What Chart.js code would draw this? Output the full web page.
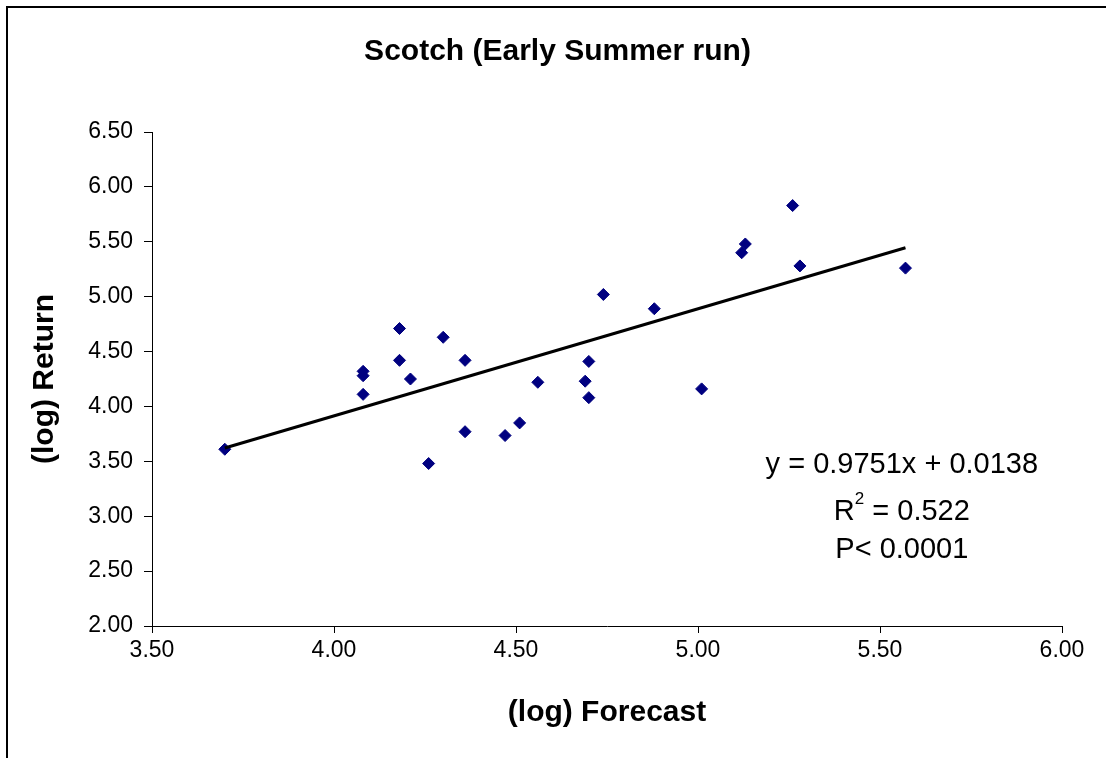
<!DOCTYPE html>
<html>
<head>
<meta charset="utf-8">
<script src="https://cdn.jsdelivr.net/npm/chart.js@4.4.1/dist/chart.umd.min.js"></script>
<style>
html,body{margin:0;padding:0;background:#fff;overflow:hidden}
#wrap{width:1106px;height:758px;position:relative}
canvas{display:block}
</style>
</head>
<body>
<div id="wrap"><canvas id="c" width="1106" height="758"></canvas></div>
<script>
// ---- data ----
const forecast = [3.70, 4.08, 4.08, 4.08, 4.18, 4.18, 4.21, 4.30, 4.36, 4.36, 4.26, 4.47, 4.51, 4.56, 4.69, 4.70, 4.70, 4.74, 4.88, 5.01, 5.12, 5.13, 5.26, 5.28, 5.57];
const returns  = [3.61, 4.32, 4.28, 4.11, 4.71, 4.42, 4.25, 4.63, 4.42, 3.77, 3.48, 3.735, 3.85, 4.22, 4.23, 4.41, 4.08, 5.02, 4.89, 4.16, 5.40, 5.48, 5.83, 5.28, 5.26];
const xTickValues = [3.5, 4.0, 4.5, 5.0, 5.5, 6.0];
const yTickValues = [2.0, 2.5, 3.0, 3.5, 4.0, 4.5, 5.0, 5.5, 6.0, 6.5];
const trendSlope = 0.9751;
const trendIntercept = 0.0138;
const eqLine1 = 'y = 0.9751x + 0.0138';
const eqR2Value = '0.522';
const eqPLine = 'P< 0.0001';
const chartTitle = 'Scotch (Early Summer run)';
const xTitle = '(log) Forecast';
const yTitle = '(log) Return';
const eqAnchor = [5.56, 3.47];

const FONT = '"Liberation Sans", Arial, Helvetica, sans-serif';

const points = forecast.map((x, i) => ({x: x, y: returns[i]}));
const xMin = Math.min(...forecast), xMax = Math.max(...forecast);
const trend = [xMin, xMax].map(x => ({x: x, y: trendSlope * x + trendIntercept}));

const frame = {
  id: 'frame',
  beforeDraw(chart) {
    const ctx = chart.ctx;
    ctx.save();
    ctx.fillStyle = '#fff';
    ctx.fillRect(0, 0, chart.width, chart.height);
    ctx.strokeStyle = '#000';
    ctx.lineWidth = 2;
    ctx.strokeRect(7, 7, chart.width + 50, chart.height + 50);
    ctx.restore();
  }
};

const equation = {
  id: 'equation',
  afterDatasetsDraw(chart) {
    const ctx = chart.ctx;
    const cx = chart.scales.x.getPixelForValue(eqAnchor[0]);
    const cy = chart.scales.y.getPixelForValue(eqAnchor[1]);
    ctx.save();
    ctx.fillStyle = '#000';
    ctx.textBaseline = 'middle';
    const big = '29px ' + FONT, small = '17px ' + FONT;
    ctx.font = big;
    ctx.textAlign = 'center';
    ctx.fillText(eqLine1, cx, cy);
    // R^2 line
    const y2 = cy + 47;
    ctx.font = big; const wR = ctx.measureText('R').width;
    const rest = ' = ' + eqR2Value; const wRest = ctx.measureText(rest).width;
    ctx.font = small; const w2 = ctx.measureText('2').width;
    const total = wR + w2 + wRest;
    const sx = cx - total / 2;
    ctx.textAlign = 'left';
    ctx.font = big; ctx.fillText('R', sx, y2);
    ctx.font = small; ctx.fillText('2', sx + wR, y2 - 12);
    ctx.font = big; ctx.fillText(rest, sx + wR + w2, y2);
    ctx.textAlign = 'center';
    ctx.fillText(eqPLine, cx, cy + 85);
    ctx.restore();
  }
};

new Chart(document.getElementById('c'), {
  type: 'scatter',
  data: {
    datasets: [
      {
        label: 'Trend',
        type: 'line',
        data: trend,
        borderColor: '#000',
        borderWidth: 3,
        pointRadius: 0,
        fill: false,
        tension: 0,
        order: 0
      },
      {
        label: 'Scotch',
        data: points,
        pointStyle: 'rectRot',
        pointRadius: 6,
        pointBackgroundColor: '#000080',
        pointBorderColor: '#000080',
        pointBorderWidth: 1,
        order: 1
      }
    ]
  },
  options: {
    responsive: false,
    animation: false,
    devicePixelRatio: 1,
    layout: {padding: {left: 9, right: 0, top: 0, bottom: 0}},
    plugins: {
      legend: {display: false},
      tooltip: {enabled: false},
      title: {
        display: true,
        text: chartTitle,
        color: '#000',
        font: {family: FONT, size: 30, weight: 'bold'},
        padding: {top: 34, bottom: 62}
      }
    },
    scales: {
      x: {
        type: 'linear',
        position: 'bottom',
        min: 3.5, max: 6.0,
        afterBuildTicks: s => { s.ticks = xTickValues.map(v => ({value: v})); },
        afterFit: s => { s.height = 132; },
        ticks: {
          color: '#000', font: {family: FONT, size: 23}, padding: 4,
          maxRotation: 0, autoSkip: false,
          callback: v => Number(v).toFixed(2)
        },
        grid: {drawOnChartArea: false, drawTicks: true, tickLength: 7, color: '#000'},
        border: {display: true, color: '#000', width: 1},
        title: {display: true, text: xTitle, color: '#000', font: {family: FONT, size: 30, weight: 'bold'}, padding: {top: 0, bottom: 27}}
      },
      y: {
        type: 'linear',
        position: 'left',
        min: 2.0, max: 6.5,
        afterBuildTicks: s => { s.ticks = yTickValues.map(v => ({value: v})); },
        afterFit: s => { s.width = 143; },
        ticks: {
          color: '#000', font: {family: FONT, size: 23}, padding: 11,
          autoSkip: false,
          callback: v => Number(v).toFixed(2)
        },
        grid: {drawOnChartArea: false, drawTicks: true, tickLength: 8, color: '#000'},
        border: {display: true, color: '#000', width: 1},
        title: {display: true, text: yTitle, color: '#000', font: {family: FONT, size: 30, weight: 'bold'}, padding: {top: 18, bottom: 0}}
      },
      yRight: {
        type: 'linear',
        position: 'right',
        min: 2.0, max: 6.5,
        display: true,
        afterFit: s => { s.width = 44; },
        ticks: {display: false},
        grid: {display: false, drawTicks: false},
        border: {display: false}
      }
    }
  },
  plugins: [frame, equation]
});
</script>
</body>
</html>
